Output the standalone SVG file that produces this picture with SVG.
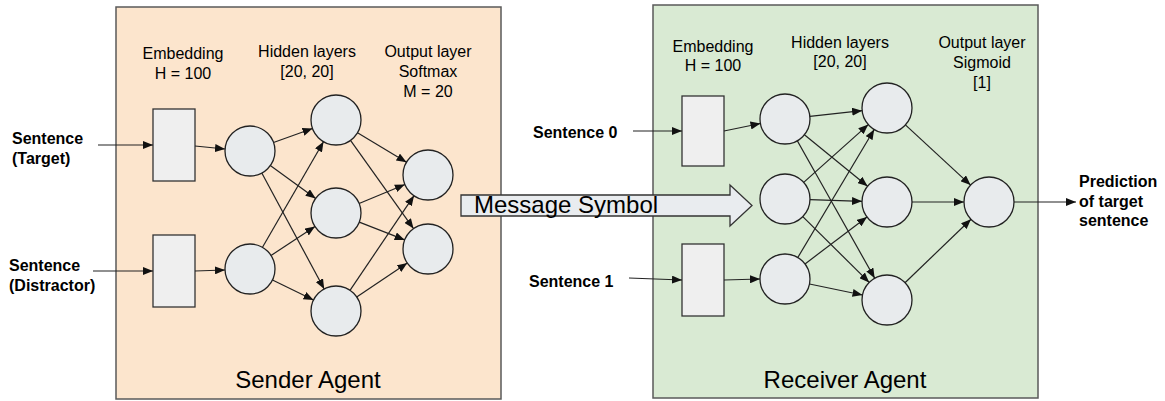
<svg xmlns="http://www.w3.org/2000/svg" width="1165" height="401" viewBox="0 0 1165 401">
<style>
text{font-family:"Liberation Sans",Arial,sans-serif;fill:#000}
.lbl{font-size:16px;text-anchor:middle}
.b{font-size:16px;font-weight:bold}
.big{font-size:24px;text-anchor:middle}
.agent{stroke:#5a5a5a;stroke-width:1.5}
.emb{fill:#efefef;stroke:#333;stroke-width:1.3}
.n{fill:#e8ebed;stroke:#222;stroke-width:1.3}
.e line{stroke:#222;stroke-width:1.2;marker-end:url(#ah)}
</style>
<defs>
<marker id="ah" markerUnits="userSpaceOnUse" markerWidth="11" markerHeight="8" refX="10" refY="4" orient="auto">
<path d="M0,0 L10,4 L0,8 z" fill="#111"/>
</marker>
</defs>
<rect width="1165" height="401" fill="#fff"/>
<g id="sender">
<rect class="agent" x="116" y="7" width="385" height="392" fill="#fce5cd"/>
<text class="big" x="308" y="388">Sender Agent</text>
<text class="lbl" x="183" y="59">Embedding</text>
<text class="lbl" x="183" y="79">H = 100</text>
<text class="lbl" x="307" y="57">Hidden layers</text>
<text class="lbl" x="307" y="77">[20, 20]</text>
<text class="lbl" x="428" y="57">Output layer</text>
<text class="lbl" x="428" y="77">Softmax</text>
<text class="lbl" x="428" y="97">M = 20</text>
</g>
<g id="receiver">
<rect class="agent" x="653" y="5" width="385" height="393" fill="#d9ead3"/>
<text class="big" x="845" y="388">Receiver Agent</text>
<text class="lbl" x="713" y="52">Embedding</text>
<text class="lbl" x="713" y="71">H = 100</text>
<text class="lbl" x="840" y="48">Hidden layers</text>
<text class="lbl" x="840" y="67">[20, 20]</text>
<text class="lbl" x="982" y="48">Output layer</text>
<text class="lbl" x="982" y="68">Sigmoid</text>
<text class="lbl" x="982" y="88">[1]</text>
</g>
<g id="inputs">
<text class="b" x="12" y="144">Sentence</text>
<text class="b" x="12" y="164">(Target)</text>
<text class="b" x="9" y="271">Sentence</text>
<text class="b" x="9" y="291">(Distractor)</text>
<text class="b" x="533" y="138">Sentence 0</text>
<text class="b" x="529" y="287">Sentence 1</text>
<text class="b" x="1079" y="187">Prediction</text>
<text class="b" x="1079" y="207">of target</text>
<text class="b" x="1079" y="226">sentence</text>
</g>
<g id="s-emb1"><rect class="emb" x="153" y="109" width="42" height="72"/></g>
<g id="s-emb2"><rect class="emb" x="153" y="235" width="42" height="72"/></g>
<g id="s-a1"><circle class="n" cx="250" cy="151" r="25"/></g>
<g id="s-a2"><circle class="n" cx="250" cy="269" r="25"/></g>
<g id="s-b1"><circle class="n" cx="336" cy="120" r="25"/></g>
<g id="s-b2"><circle class="n" cx="336" cy="213" r="25"/></g>
<g id="s-b3"><circle class="n" cx="336" cy="311" r="25"/></g>
<g id="s-c1"><circle class="n" cx="428" cy="175" r="25"/></g>
<g id="s-c2"><circle class="n" cx="428" cy="249" r="25"/></g>
<g id="r-emb1"><rect class="emb" x="682" y="96" width="42" height="70"/></g>
<g id="r-emb2"><rect class="emb" x="682" y="244" width="42" height="72"/></g>
<g id="r-p1"><circle class="n" cx="785" cy="119" r="25"/></g>
<g id="r-p2"><circle class="n" cx="785" cy="199" r="25"/></g>
<g id="r-p3"><circle class="n" cx="785" cy="279" r="25"/></g>
<g id="r-q1"><circle class="n" cx="887" cy="108" r="25"/></g>
<g id="r-q2"><circle class="n" cx="887" cy="202" r="25"/></g>
<g id="r-q3"><circle class="n" cx="887" cy="300" r="25"/></g>
<g id="r-o"><circle class="n" cx="989" cy="202" r="25"/></g>
<g id="connectors" class="e">
<line x1="98" y1="145" x2="153" y2="145"/>
<line x1="93" y1="271" x2="153" y2="271"/>
<line x1="195" y1="146" x2="225" y2="149"/>
<line x1="195" y1="271" x2="225" y2="270"/>
<line x1="273.5" y1="142.5" x2="312.5" y2="128.5"/>
<line x1="270.3" y1="165.6" x2="315.7" y2="198.4"/>
<line x1="261.8" y1="173" x2="324.2" y2="289"/>
<line x1="262.5" y1="247.3" x2="323.5" y2="141.7"/>
<line x1="271" y1="255.4" x2="315" y2="226.6"/>
<line x1="272.5" y1="280" x2="313.5" y2="300"/>
<line x1="357.5" y1="132.8" x2="406.5" y2="162.2"/>
<line x1="350.5" y1="140.4" x2="413.5" y2="228.6"/>
<line x1="359.1" y1="203.5" x2="404.9" y2="184.5"/>
<line x1="359.3" y1="222.1" x2="404.7" y2="239.9"/>
<line x1="350" y1="290.3" x2="414" y2="195.7"/>
<line x1="356.7" y1="297" x2="407.3" y2="263"/>
<line x1="633" y1="131" x2="682" y2="131"/>
<line x1="629" y1="278" x2="682" y2="280"/>
<line x1="724" y1="131" x2="760.5" y2="123.5"/>
<line x1="724" y1="280" x2="760" y2="279"/>
<line x1="809.9" y1="116.3" x2="862.1" y2="110.7"/>
<line x1="804.4" y1="134.8" x2="867.6" y2="186.2"/>
<line x1="797.3" y1="140.8" x2="874.7" y2="278.2"/>
<line x1="803.7" y1="182.4" x2="868.3" y2="124.6"/>
<line x1="810" y1="199.7" x2="862" y2="201.3"/>
<line x1="802.8" y1="216.6" x2="869.2" y2="282.4"/>
<line x1="797.8" y1="257.5" x2="874.2" y2="129.5"/>
<line x1="805" y1="263.9" x2="867" y2="217.1"/>
<line x1="809.5" y1="284" x2="862.5" y2="295"/>
<line x1="905.4" y1="124.9" x2="970.6" y2="185.1"/>
<line x1="912" y1="202" x2="964" y2="202"/>
<line x1="905" y1="282.7" x2="971" y2="219.3"/>
<line x1="1014" y1="202" x2="1076" y2="202"/>
</g>
<g id="message">
<polygon points="461,195 730,195 730,185 752,205.5 730,226 730,216 461,216" fill="#e9ecef" stroke="#333" stroke-width="1.3"/>
<text x="474" y="213" style="font-size:24px">Message Symbol</text>
</g>
</svg>
